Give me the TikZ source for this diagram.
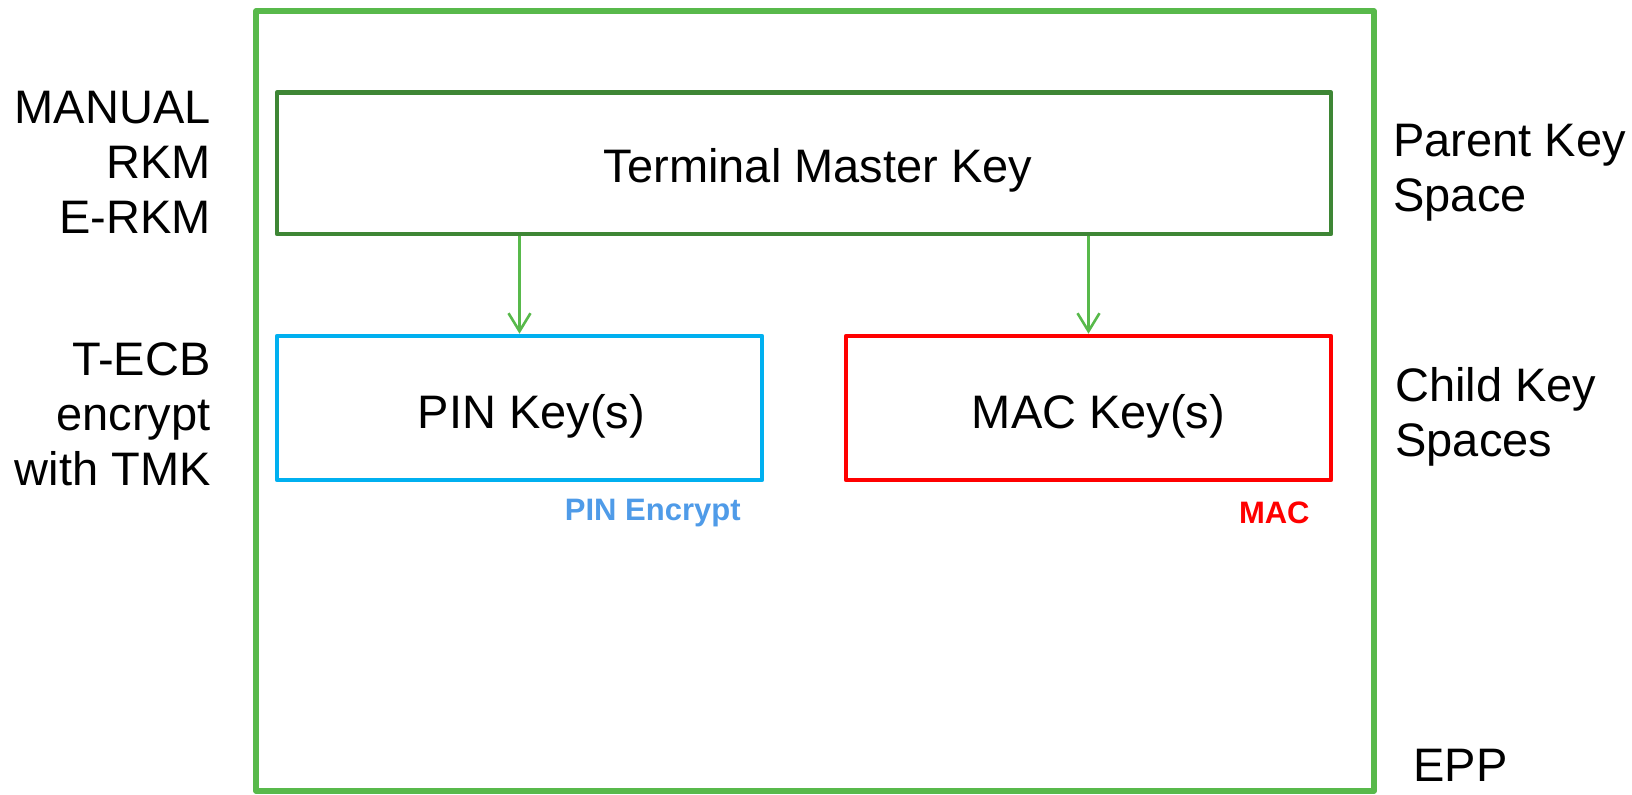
\documentclass[tikz,border=0pt]{standalone}
\usepackage{fontspec}
\setmainfont{Liberation Sans}
\usetikzlibrary{arrows.meta}
\definecolor{eppgreen}{RGB}{88,185,75}
\definecolor{tmkgreen}{RGB}{62,134,53}
\definecolor{pinblue}{RGB}{0,176,240}
\definecolor{pintag}{RGB}{79,155,232}
\definecolor{macred}{RGB}{255,0,0}

\begin{document}
\begin{tikzpicture}[x=0.5pt,y=-0.5pt,
    keybox/.style={draw,line width=2.3pt,line join=round,inner sep=0pt,minimum height=72pt},
    boxtext/.style={font=\fontsize{23.5}{27.5}\selectfont,inner sep=0pt},
    side/.style={font=\fontsize{23.5}{27.5}\selectfont,inner sep=0pt},
    tag/.style={font=\fontsize{15.5}{18}\selectfont\bfseries,inner sep=0pt},
    arr/.style={-{Straight Barb[length=9pt,width=11pt]},line width=1.3pt,eppgreen}]
  \useasboundingbox (0,0) rectangle (1632,795);
  % EPP frame
  \node[draw=eppgreen,line width=3pt,line join=round,inner sep=0pt,
    minimum width=559pt,minimum height=389.75pt] (epp) at (815,401) {};
  % key boxes
  \node[keybox,draw=tmkgreen,minimum width=527pt,minimum height=70.7pt] (tmk) at (804,163.3) {};
  \node[keybox,draw=pinblue,minimum width=242.5pt] (pin) at (519.5,408) {};
  \node[keybox,draw=macred,minimum width=242.5pt] (mac) at (1088.5,408) {};
  \node[boxtext] (tmktext) at ([shift={(14,7)}]tmk.center) {Terminal Master Key};
  \node[boxtext] (pintext) at ([shift={(12,8)}]pin.center) {PIN Key(s)};
  \node[boxtext] (mactext) at ([shift={(10,8)}]mac.center) {MAC Key(s)};
  \draw[arr] (tmk.south -| pin.north) -- (pin.north);
  \draw[arr] (tmk.south -| mac.north) -- (mac.north);
  % usage tags
  \node[tag,text=pintag,anchor=east] (pinuse) at (741,513) {PIN Encrypt};
  \node[tag,text=macred,anchor=east] (macuse) at (1310,513) {MAC};
  % side labels
  \node[side,anchor=east,align=right] (load) at (211,162) {MANUAL\\RKM\\E-RKM};
  \node[side,anchor=east,align=right] (wrap) at (211,414) {T-ECB\\encrypt\\with TMK};
  \node[side,anchor=west,align=left] (parent) at (1393,173) {Parent Key\\Space};
  \node[side,anchor=west,align=left] (child) at (1395,417) {Child Key\\Spaces};
  \node[side,anchor=west] (epplabel) at (1413,765) {EPP};
\end{tikzpicture}
\end{document}
